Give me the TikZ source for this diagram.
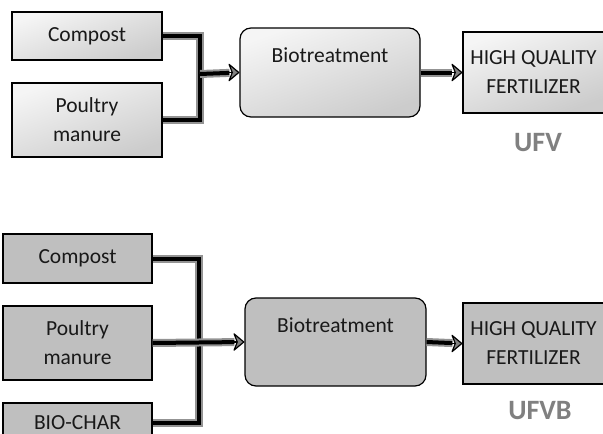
\documentclass[tikz,border=0pt]{standalone}
\usepackage{fontspec}
\setmainfont{Carlito}
\usetikzlibrary{positioning,arrows.meta}

\newcommand{\boxfont}{\fontsize{21.5}{29}\selectfont}

\begin{document}
\begin{tikzpicture}[x=1pt,y=-1pt,
  box/.style={draw=black, line width=1.2pt, align=center, font=\boxfont, text=black!90, inner sep=0pt},
  lightbox/.style={box, top color=gray!8, bottom color=gray!40, shading angle=20},
  darkbox/.style={box, fill=gray!50},
  procbox/.style={rounded corners=11pt},
  pipe/.style={draw=black, line width=4pt, preaction={draw=gray!85, line width=8pt}},
  tipend/.style={draw=black, line width=1.2pt, -{Stealth[length=12pt,width=20pt,round,fill=gray]}},
  tag/.style={font=\fontsize{28}{28}\selectfont\bfseries, text=gray}]

  \useasboundingbox (0,0) rectangle (603,434);

  % without bio-char
  \node[lightbox, minimum width=150pt, minimum height=48pt] (cmpA) at (87,36) {Compost};
  \node[lightbox, minimum width=150pt, minimum height=74pt] (pmA) at (87,120) {Poultry\\manure};
  \node[lightbox, procbox, minimum width=180pt, minimum height=89pt,
        label={[anchor=north, yshift=-17pt, font=\boxfont, text=black!90]north:Biotreatment}] (bioA) at (330,72.5) {};
  \node[lightbox, minimum width=141pt, minimum height=81pt] (hqA) at (533.5,72.5) {HIGH QUALITY\\FERTILIZER};
  \node[tag] (ufv) at (538,143) {UFV};
  \coordinate (jnA) at (200,74);

  \draw[pipe] (cmpA.east) -| (jnA) |- (pmA.east);
  \draw[pipe, shorten >=10pt] (jnA) -- (bioA.west);
  \draw[tipend] ([xshift=-13pt]bioA.west) -- (bioA.west);
  \draw[pipe, shorten >=10pt] (bioA.east) -- (hqA.west);
  \draw[tipend] ([xshift=-13pt]hqA.west) -- (hqA.west);

  % with bio-char
  \node[darkbox, minimum width=149pt, minimum height=49pt] (cmpB) at (77.5,258.5) {Compost};
  \node[darkbox, minimum width=149pt, minimum height=74pt] (pmB) at (77.5,343) {Poultry\\manure};
  \node[darkbox, minimum width=149pt, minimum height=40pt] (bcB) at (77.5,423) {BIO-CHAR};
  \node[darkbox, procbox, minimum width=181pt, minimum height=88pt,
        label={[anchor=north, yshift=-17pt, font=\boxfont, text=black!90]north:Biotreatment}] (bioB) at (335.5,342) {};
  \node[darkbox, minimum width=141pt, minimum height=81pt] (hqB) at (533.5,343.5) {HIGH QUALITY\\FERTILIZER};
  \node[tag] (ufvb) at (540,411) {UFVB};
  \coordinate (jnB) at (199,343);

  \draw[pipe] (cmpB.east) -| (jnB) |- (bcB.east);
  \draw[pipe, shorten >=10pt] (pmB.east) -- (bioB.west);
  \draw[tipend] ([xshift=-13pt]bioB.west) -- (bioB.west);
  \draw[pipe, shorten >=10pt] (bioB.east) -- (hqB.west);
  \draw[tipend] ([xshift=-13pt]hqB.west) -- (hqB.west);

\end{tikzpicture}
\end{document}
